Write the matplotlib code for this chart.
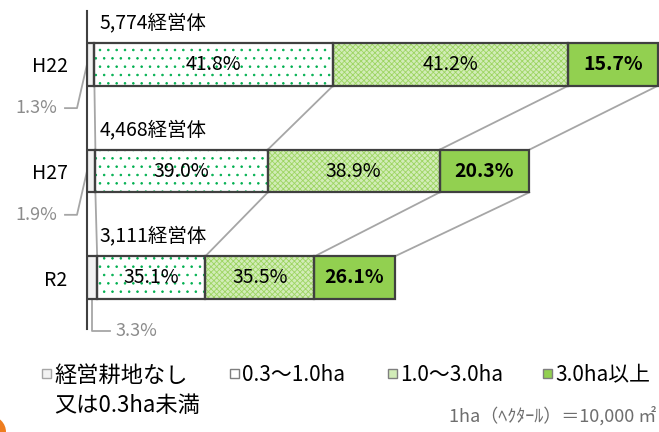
import numpy as np
import matplotlib
matplotlib.use("Agg")
import matplotlib.pyplot as plt
from matplotlib.patches import Rectangle, Circle
from matplotlib.transforms import IdentityTransform

plt.rcParams['font.family'] = ['Noto Sans CJK JP', 'DejaVu Sans']
plt.rcParams['hatch.linewidth'] = 0.6

# data
years = ["H22", "H27", "R2"]
totals = [5774, 4468, 3111]
total_labels = ["5,774経営体", "4,468経営体", "3,111経営体"]
share_none = [1.3, 1.9, 3.3]
share_small = [41.8, 39.0, 35.1]
share_mid = [41.2, 38.9, 35.5]
share_large = [15.7, 20.3, 26.1]
legend_labels = ["経営耕地なし\n又は0.3ha未満", "0.3～1.0ha", "1.0～3.0ha", "3.0ha以上"]
note = "1ha（ﾍｸﾀｰﾙ）＝10,000 ㎡"

W, H = 659, 432
fig = plt.figure(figsize=(W / 100, H / 100), dpi=100)


def fx(x):
    return x / W


def fy(y):
    return 1 - y / H


ax = fig.add_axes([fx(87), fy(329), 572 / W, 318 / H])
px_per = 571 / totals[0]
ax.set_xlim(0, 572 / px_per)
ax.set_ylim(2.48, -0.50)

shares = np.array([share_none, share_small, share_mid, share_large]).T
widths = shares / 100 * np.array(totals)[:, None]
lefts = np.hstack([np.zeros((3, 1)), np.cumsum(widths, axis=1)[:, :-1]])
rights = lefts + widths

faces = ["#f2f2f2", "white", "#d2ecb8", "#92d050"]
hatches = [None, "..", "xxxxxx", None]
hatch_cols = ["#f2f2f2", "#00b050", "#9dd562", "#92d050"]
edge = "#404040"
bh = 0.4
ypos = np.arange(len(years))

for j in range(4):
    ax.barh(ypos, widths[:, j], left=lefts[:, j], height=bh, color=faces[j],
            edgecolor=hatch_cols[j], linewidth=0, hatch=hatches[j], zorder=3)
    ax.barh(ypos, widths[:, j], left=lefts[:, j], height=bh, fill=False,
            edgecolor=edge, linewidth=1.6, zorder=4)

# connecting lines between the bars
for i in range(len(years) - 1):
    for j in range(4):
        ax.plot([rights[i, j], rights[i + 1, j]], [i + bh / 2, i + 1 - bh / 2],
                color="#a6a6a6", lw=1.3, zorder=2)

# labels inside segments
for i in range(len(years)):
    for j in range(1, 4):
        ax.text(lefts[i, j] + widths[i, j] / 2, i, f"{shares[i, j]:.1f}%",
                ha="center", va="center", fontsize=14, color="black",
                fontweight="bold" if j == 3 else "normal", zorder=5)
    ax.text(130, i - 0.39, total_labels[i], ha="left", va="center",
            fontsize=14, color="black")

# small share labels with leader lines
gray = "#8c8c8c"
lc = "#a6a6a6"
d = 1 / px_per
for i in range(2):
    ty = i + 0.41
    ax.plot([-22 * d, -10 * d, 0], [ty, ty, i], color=lc, lw=1.3,
            clip_on=False, zorder=2)
    ax.text(-30 * d, ty, f"{share_none[i]:.1f}%", ha="right", va="center",
            fontsize=13, color=gray)
ax.plot([widths[2, 0] / 2] * 2 + [23 * d], [2 + bh / 2, 2.5, 2.5], color=lc,
        lw=1.3, clip_on=False, zorder=2)
ax.text(28 * d, 2.5, f"{share_none[2]:.1f}%", ha="left", va="center",
        fontsize=13, color=gray)

ax.set_yticks(ypos)
ax.set_yticklabels(years, fontsize=14)
ax.tick_params(axis="y", length=0, pad=14)
ax.set_xticks([])
for s in ["top", "right", "bottom"]:
    ax.spines[s].set_visible(False)
ax.spines["left"].set_color(edge)
ax.spines["left"].set_linewidth(1.5)
ax.patch.set_alpha(0)

# legend drawn by hand
leg_x = [42, 230, 388, 543]
leg_face = ["#f2f2f2", "white", "#d2ecb8", "#92d050"]
leg_edge = ["#a6a6a6", "#7f7f7f", "#7f7f7f", "#7f7f7f"]
sq = 9
for k in range(4):
    fig.patches.append(Rectangle((fx(leg_x[k]), fy(378)), sq / W, sq / H,
                                 transform=fig.transFigure, facecolor=leg_face[k],
                                 edgecolor=leg_edge[k], lw=1.0))
    fig.text(fx(leg_x[k] + sq + 3), fy(375), legend_labels[k].split("\n")[0],
             ha="left", va="center", fontsize=16 if k == 0 else 15)
fig.text(fx(54), fy(405), legend_labels[0].split("\n")[1], ha="left",
         va="center", fontsize=16)
fig.text(fx(656), fy(416), note, ha="right", va="center", fontsize=13,
         color="#6e6e6e")

# orange corner
fig.patches.append(Circle((-10, 0), 16, transform=IdentityTransform(),
                          facecolor="#ee7d1f", edgecolor="none"))

fig.savefig("out.png", dpi=100)
